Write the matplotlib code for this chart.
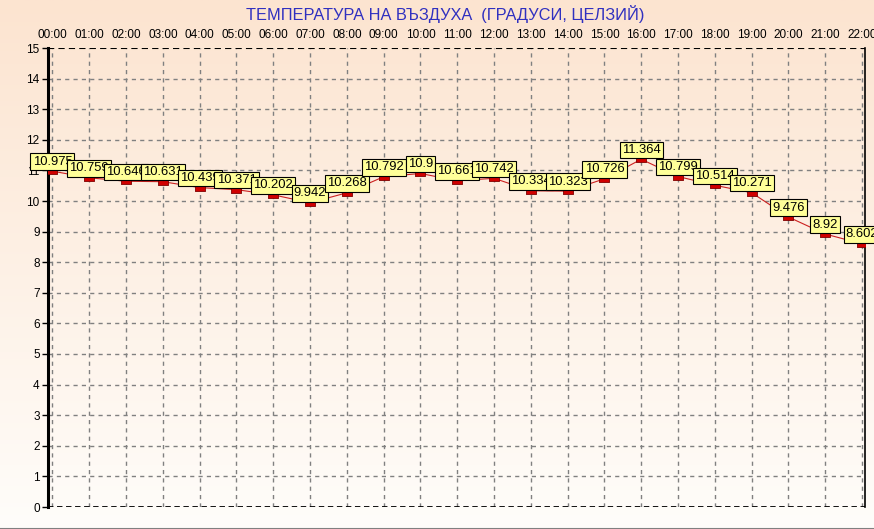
import numpy as np
import matplotlib
matplotlib.use("Agg")
import matplotlib.pyplot as plt

hours = ["00:00", "01:00", "02:00", "03:00", "04:00", "05:00", "06:00", "07:00",
         "08:00", "09:00", "10:00", "11:00", "12:00", "13:00", "14:00", "15:00",
         "16:00", "17:00", "18:00", "19:00", "20:00", "21:00", "22:00"]
temps = [10.975, 10.759, 10.646, 10.631, 10.439, 10.371, 10.202, 9.942,
         10.268, 10.792, 10.9, 10.661, 10.742, 10.334, 10.323, 10.726,
         11.364, 10.799, 10.514, 10.271, 9.476, 8.92, 8.602]
labels = ["10.975", "10.759", "10.646", "10.631", "10.439", "10.371", "10.202", "9.942",
          "10.268", "10.792", "10.9", "10.661", "10.742", "10.334", "10.323", "10.726",
          "11.364", "10.799", "10.514", "10.271", "9.476", "8.92", "8.602"]
yticks = list(range(0, 16))
title = "ТЕМПЕРАТУРА НА ВЪЗДУХА  (ГРАДУСИ, ЦЕЛЗИЙ)"

plt.rcParams['font.family'] = ['Liberation Sans', 'DejaVu Sans']

W, H = 874, 529
fig = plt.figure(figsize=(W / 100, H / 100), dpi=100)

# background gradient
bg = fig.add_axes([0, 0, 1, 1], zorder=-10)
top = np.array([252, 228, 208]) / 255
bot = np.array([255, 253, 250]) / 255
t = np.linspace(0, 1, 256)[:, None]
grad = top[None, :] * (1 - t) + bot[None, :] * t
img = np.repeat(grad[:, None, :], 2, axis=1)
bg.imshow(img, aspect='auto', extent=[0, 1, 0, 1], origin='upper')
bg.set_xlim(0, 1); bg.set_ylim(0, 1)
bg.axis('off')
bg.plot([0, 1], [0.5 / H, 0.5 / H], color='#808080', lw=1.5)

x0, x1 = 48, 865
y0, y1 = 507, 48
ax = fig.add_axes([x0 / W, (H - y0) / H, (x1 - x0) / W, (y0 - y1) / H])
ax.patch.set_alpha(0)

x = np.arange(len(hours))
ax.set_xlim(-0.12, 22.08)
ax.set_ylim(0, 15)

for xi in x:
    ax.axvline(xi, color='#808080', lw=1, ls=(0, (3, 3)), zorder=1)
for yi in yticks[1:-1]:
    ax.axhline(yi, color='#808080', lw=1, ls=(0, (3, 3)), zorder=1)

for s in ['top', 'bottom']:
    ax.spines[s].set_visible(False)
ax.axhline(15, color='black', lw=1.5, ls=(0, (3, 2)), zorder=2)
ax.axhline(0, color='black', lw=1.3, ls=(0, (3, 2)), zorder=2)
ax.spines['left'].set_linewidth(2.2)
ax.spines['right'].set_linewidth(1.2)

ax.plot(x, temps, color='#CC2020', lw=0.8, zorder=3)
rect = [(-1, -0.55), (1, -0.55), (1, 0.55), (-1, 0.55), (-1, -0.55)]
ax.plot(x, temps, ls='none', marker=rect, markersize=6.8,
        markerfacecolor='#D00000', markeredgecolor='#800000', markeredgewidth=0.6, zorder=4)

for i, (xi, v, lab) in enumerate(zip(x, temps, labels)):
    ax.annotate(lab, (xi, v), xytext=(0, 2.5), textcoords='offset points',
                ha='center', va='bottom', fontsize=9.4, color='black',
                bbox=dict(boxstyle='square,pad=0.17', fc='#FFFF99', ec='black', lw=0.8),
                zorder=5 + i)

ax.xaxis.tick_top()
ax.set_xticks(x)
ax.set_xticklabels(hours, fontsize=8.5)
ax.tick_params(axis='x', length=0, pad=5)
ax.set_yticks(yticks)
ax.set_yticklabels([str(v) for v in yticks], fontsize=8.5)
ax.tick_params(axis='y', length=4, width=1, pad=2)

fig.text(445 / W, 1 - 14 / H, title, ha='center', va='center',
         fontsize=11.8, color='#3030C0')

fig.savefig("out.png", dpi=100)
